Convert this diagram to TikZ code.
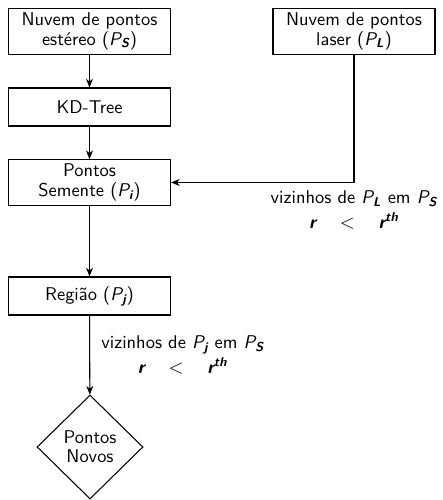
\documentclass[tikz,border=0pt]{standalone}
\usepackage{fontspec}
\usepackage{amsmath}
\usetikzlibrary{arrows.meta,shapes.geometric,positioning}

\newcommand{\pset}[2]{$\text{\itshape #1}_{\text{\bfseries\itshape #2}}$}
\newcommand{\rth}{$\text{\bfseries\itshape r}\quad<\quad\text{\bfseries\itshape r}^{\text{\bfseries\itshape th}}$}

\begin{document}
\begin{tikzpicture}[
  font=\sffamily\fontsize{10.5}{11}\selectfont,
  block/.style={draw, rectangle, line width=0.6pt, align=center, inner sep=2.5pt,
    minimum width=3.24cm, minimum height=0.76cm},
  novos/.style={draw, diamond, line width=0.6pt, align=center, inner sep=0pt,
    minimum width=2.12cm, minimum height=2.08cm},
  lbl/.style={align=center, font=\sffamily\fontsize{10.5}{14}\selectfont},
  arr/.style={-{Stealth[length=5pt,width=4pt]}, line width=0.6pt}
]
\useasboundingbox (0,0) rectangle (8.84,-10);

\node[block] (estereo) at (1.79,-0.626) {Nuvem de pontos\\estéreo (\pset{P}{S})};
\node[block] (laser) at (7.08,-0.626) {Nuvem de pontos\\laser (\pset{P}{L})};

\node[block] (kdtree) at (1.79,-2.14) {KD-Tree};
\node[block] (semente) at (1.79,-3.65) {Pontos\\Semente (\pset{P}{i})};
\node[block] (regiao) at (1.79,-5.92) {Região (\pset{P}{j})};
\node[novos] (novos) at (1.8,-8.94) {Pontos\\Novos};

\draw[arr] (estereo) -- (kdtree);
\draw[arr] (kdtree) -- (semente);
\draw[arr] (laser) |- node[lbl, below=1pt] {vizinhos de \pset{P}{L} em \pset{P}{S}\\\rth} (semente);
\draw[arr] (semente) -- (regiao);
\draw[arr] (regiao) -- node[lbl, right=3pt] {vizinhos de \pset{P}{j} em \pset{P}{S}\\\rth} (novos);

\end{tikzpicture}
\end{document}
